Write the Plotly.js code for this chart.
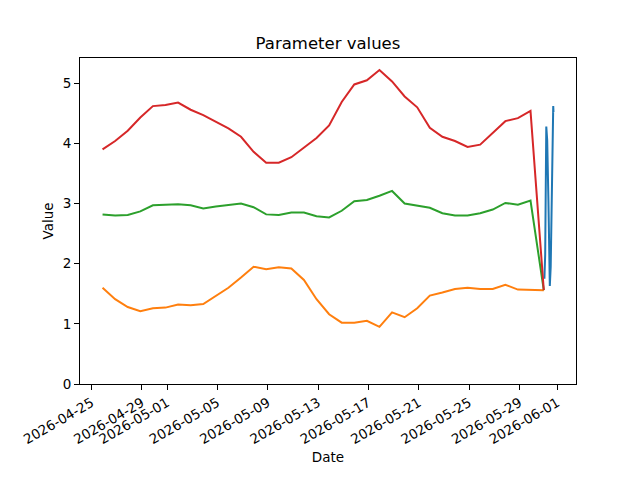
<!DOCTYPE html>
<html>
<head>
<meta charset="utf-8">
<script src="https://cdn.plot.ly/plotly-3.0.1.min.js"></script>
<style>
  body { margin: 0; background: #fff; }
  #chart { width: 640px; height: 480px; }
</style>
</head>
<body>
<div id="chart"></div>
<script>
// daily readings, one per day at 21:00, plus a final reading on 05-30
let dailyDates = [];
for (let d = 0; d < 35; d++) {
    let t = new Date(Date.UTC(2026, 3, 25, 21, 0) + d * 86400000);
    dailyDates.push(t.toISOString().slice(0, 16).replace('T', ' '));
}
dailyDates.push('2026-05-30 22:20');

let redValues = [3.90, 4.04, 4.21, 4.43, 4.62, 4.64, 4.68, 4.56, 4.47, 4.36, 4.25, 4.11,
    3.86, 3.68, 3.68, 3.77, 3.93, 4.09, 4.30, 4.69, 4.98, 5.05, 5.22, 5.03, 4.78, 4.60,
    4.26, 4.11, 4.04, 3.94, 3.98, 4.17, 4.37, 4.42, 4.54, 1.56];
let greenValues = [2.82, 2.80, 2.81, 2.87, 2.97, 2.98, 2.99, 2.97, 2.92, 2.95, 2.97, 3.00,
    2.94, 2.82, 2.81, 2.85, 2.85, 2.79, 2.77, 2.88, 3.04, 3.06, 3.13, 3.21, 3.00, 2.97,
    2.93, 2.84, 2.80, 2.80, 2.84, 2.90, 3.01, 2.98, 3.05, 1.56];
let orangeValues = [1.60, 1.41, 1.28, 1.21, 1.26, 1.27, 1.32, 1.31, 1.33, 1.46, 1.60, 1.77,
    1.95, 1.91, 1.94, 1.92, 1.73, 1.41, 1.16, 1.02, 1.02, 1.05, 0.95, 1.19, 1.11, 1.26,
    1.47, 1.52, 1.58, 1.60, 1.58, 1.58, 1.65, 1.57, 1.57, 1.56];

// the short dense series at the end
let blueDates = ['2026-05-30 23:30', '2026-05-31 01:00', '2026-05-31 03:05', '2026-05-31 04:50',
    '2026-05-31 07:10', '2026-05-31 09:50', '2026-05-31 11:30', '2026-05-31 14:25',
    '2026-05-31 16:20', '2026-05-31 16:50'];
let blueValues = [1.75, 2.15, 4.28, 4.05, 3.05, 1.63, 1.95, 3.50, 4.62, 4.52];

let tickDates = ['2026-04-25', '2026-04-29', '2026-05-01', '2026-05-05', '2026-05-09',
    '2026-05-13', '2026-05-17', '2026-05-21', '2026-05-25', '2026-05-29', '2026-06-01'];

function line(x, y, color) {
    return {
        type: 'scatter',
        mode: 'lines',
        x: x,
        y: y,
        line: { color: color, width: 2 },
        hoverinfo: 'skip'
    };
}

let traces = [
    line(blueDates, blueValues, '#1f77b4'),
    line(dailyDates, orangeValues, '#ff7f0e'),
    line(dailyDates, greenValues, '#2ca02c'),
    line(dailyDates, redValues, '#d62728')
];

let axisStyle = {
    showline: true,
    linecolor: '#000',
    linewidth: 1,
    mirror: true,
    showgrid: false,
    zeroline: false,
    ticks: 'outside',
    ticklen: 5,
    tickcolor: '#000',
    tickfont: { size: 13.5, color: '#000' }
};

let layout = {
    width: 640,
    height: 480,
    paper_bgcolor: '#fff',
    plot_bgcolor: '#fff',
    font: { family: 'DejaVu Sans, sans-serif', color: '#000' },
    showlegend: false,
    margin: { l: 80, r: 64, t: 58, b: 96 },
    title: {
        text: 'Parameter values',
        font: { size: 16.5 },
        xref: 'paper',
        x: 0.5,
        xanchor: 'center',
        y: 1 - 43 / 480,
        yanchor: 'middle'
    },
    xaxis: Object.assign({}, axisStyle, {
        type: 'date',
        range: ['2026-04-24 02:00', '2026-06-02 11:45'],
        tickmode: 'array',
        tickvals: tickDates,
        ticktext: tickDates,
        tickangle: -30,
        title: { text: 'Date', font: { size: 13.5 }, standoff: 6 }
    }),
    yaxis: Object.assign({}, axisStyle, {
        range: [0, 5.42],
        tickvals: [0, 1, 2, 3, 4, 5],
        title: { text: 'Value', font: { size: 13.5 }, standoff: 5 }
    })
};

Plotly.newPlot('chart', traces, layout, { staticPlot: true, displayModeBar: false });
</script>
</body>
</html>
